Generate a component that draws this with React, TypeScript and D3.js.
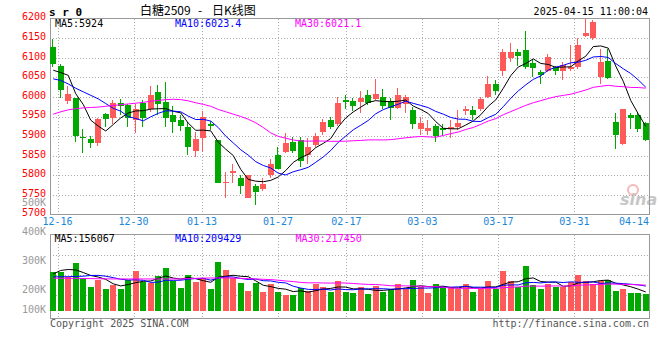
import React from 'react';
import * as d3 from 'd3';

// ---- data ----
const dates = [
  '12-13','12-16','12-17','12-18','12-19','12-20','12-23','12-24','12-25','12-26','12-27','12-30','12-31',
  '01-02','01-03','01-06','01-07','01-08','01-09','01-10','01-13','01-14','01-15','01-16','01-17','01-20','01-21','01-22','01-23','01-24','01-27',
  '02-05','02-06','02-07','02-10','02-11','02-12','02-13','02-14','02-17','02-18','02-19','02-20','02-21','02-24','02-25','02-26','02-27','02-28',
  '03-03','03-04','03-05','03-06','03-07','03-10','03-11','03-12','03-13','03-14','03-17','03-18','03-19','03-20','03-21','03-24','03-25','03-26','03-27','03-28','03-31',
  '04-01','04-02','04-03','04-07','04-08','04-09','04-10','04-11','04-14','04-15',
];
const opens = [6128,6079,5989,5997,5897,5892,5883,5956,5947,5984,5979,5941,5984,5970,6013,5986,5953,5942,5922,5862,
  5896,5932,5890,5782,5806,5792,5742,5772,5764,5800,5851,5860,5885,5890,5851,5877,5911,5941,5930,5991,
  5989,5986,6004,5994,6000,5989,5972,5981,5966,5918,5913,5925,5920,5917,5922,5964,5966,5969,6000,6032,
  6067,6098,6115,6119,6087,6064,6067,6076,6066,6072,6077,6156,6149,6051,6091,5936,5881,5953,5953,5934];
const highs = [6147,6085,6028,5997,5919,5899,5946,5958,5991,5994,5981,5983,5992,6028,6030,6037,5976,5953,5936,5911,
  5965,5938,5890,5809,5828,5800,5800,5779,5794,5841,5873,5909,5898,5898,5894,5909,5943,5949,6000,6006,
  5998,6015,6017,6045,6020,5996,6023,6004,5973,5949,5941,5930,5930,5941,5966,5977,5977,6000,6053,6043,
  6121,6138,6121,6168,6096,6068,6110,6078,6089,6132,6151,6200,6196,6123,6123,5959,5970,5959,5959,5936];
const lows = [6077,5996,5983,5885,5858,5870,5875,5924,5930,5953,5924,5909,5924,5962,5955,5922,5907,5913,5851,5847,
  5860,5915,5780,5742,5781,5752,5742,5724,5760,5792,5816,5856,5858,5822,5828,5871,5902,5917,5925,5970,
  5964,5959,5979,5993,5970,5942,5969,5959,5917,5902,5904,5885,5901,5896,5915,5955,5942,5964,5998,6004,
  6053,6089,6078,6072,6051,6034,6064,6057,6044,6066,6072,6153,6145,6034,6045,5868,5877,5917,5911,5888];
const closes = [6083,6018,6007,5901,5894,5883,5943,5944,5984,5978,5945,5970,5947,6004,5983,5947,5936,5926,5873,5892,
  5949,5927,5781,5784,5811,5772,5800,5758,5777,5828,5816,5882,5862,5837,5871,5901,5936,5924,5985,5986,
  5977,5997,5985,6007,5977,5972,6004,6000,5930,5934,5920,5901,5915,5923,5934,5968,5953,5994,6032,6015,
  6115,6115,6104,6077,6074,6057,6102,6067,6081,6077,6132,6162,6190,6089,6049,5902,5969,5945,5919,5890];
// volume, in lots
const volumes = [323,323,281,403,273,200,259,184,217,184,259,337,240,231,292,359,251,195,301,240,
  276,184,409,342,278,234,167,234,159,223,159,134,134,190,167,223,200,161,251,161,
  150,200,142,206,161,184,225,184,259,200,150,225,200,200,184,225,159,184,251,184,
  334,251,200,376,217,184,225,200,200,242,301,251,225,251,259,167,184,150,150,142].map(v => v * 1000);

// moving-average values before enough history is visible
const ma5Head = [6068, 6062, 6055, 6008];
const ma10Head = [6046, 6042, 6033, 6022, 6013, 6004, 5995, 5983, 5971];
const ma30Head = [5956,5962,5967,5970,5972,5973,5974,5976,5978,5980,5982,5984,5986,5989,5991,5993,5994,5993,5990,5985,5981,5976,5968,5962,5956,5950,5943,5934,5922];
const vma5Head = [309000, 338000, 346000, 342000];
const vma10Head = [284000, 285000, 286000, 288000, 290000, 296000, 297000, 290000, 278000];
const vma30Head = [273,273,272,272,271,270,269,268,267,267,267,267,267,267,267,267,267,268,270,272,274,275,276,276,274,272,270,267,264].map(v => v * 1000);

const tickDates = ['12-16','12-30','01-13','01-27','02-17','03-03','03-17','03-31','04-14'];
const priceTicks = [6200,6150,6100,6050,6000,5950,5900,5850,5800,5750,5700];
const volTicks = [100000,200000,300000,400000,500000];
const priceMA = ['MA5:5924', 'MA10:6023.4', 'MA30:6021.1'];
const volMA = ['MA5:156067', 'MA10:209429', 'MA30:217450'];

const RED = '#ff5a5a';
const GREEN = '#00a800';
const MA_COLORS = ['#000000', '#0000ff', '#ff00ff'];
const GRID = '#aaaaaa';
const BORDER = '#999999';
const MONO = "'DejaVu Sans Mono', monospace";

function movingAvg(values: number[], n: number, head: number[]) {
  return values.map((_, i) => (i < head.length ? head[i] : (d3.mean(values.slice(i - n + 1, i + 1)) as number)));
}

export default function App() {
  const L = 50, R = 650;
  const T = 18.5, B = 214.5;
  const VT = 234.5, VB = 318.5;
  const idx = dates.map((_, i) => i);

  const x = d3.scaleBand<number>().domain(idx).range([49.5, 649.5]).padding(0);
  const cx = (i: number) => (x(i) as number) + x.bandwidth() / 2;
  const gridX = d3.scaleLinear().domain([0, 80]).range([50, 658]);
  const y = d3.scaleLinear().domain([5700, 6200]).range([B, T]);
  const yv = d3.scaleLinear().domain([0, 400000]).range([311, 263]);
  const volLabelY = d3.scaleLinear().domain([200000, 500000]).range([293, 205.7]);

  const ma = [movingAvg(closes, 5, ma5Head), movingAvg(closes, 10, ma10Head), movingAvg(closes, 30, ma30Head)];
  const vma = [movingAvg(volumes, 5, vma5Head), movingAvg(volumes, 10, vma10Head), movingAvg(volumes, 30, vma30Head)];

  const priceLine = d3.line<number>().x((_, i) => cx(i)).y(d => y(d));
  const volLine = d3.line<number>().x((_, i) => cx(i)).y(d => yv(d));

  const ticks = tickDates.map(t => ({ t, gx: gridX(dates.indexOf(t)) }));
  const hGrid = priceTicks.filter(p => p !== 6200 && p !== 5700);
  const fmtK = (v: number) => `${v / 1000}K`;

  return (
    <svg width={660} height={360} style={{ position: 'absolute', left: 0, top: 0, background: '#fff' }}
      fontFamily={MONO} fontSize={10}>
      <rect x={0} y={0} width={660} height={360} fill="#fff" />

      {/* header */}
      <text x={49} y={15.5} fontWeight="bold" fontSize={11} fill="#000" xmlSpace="preserve">s r 0</text>
      <text x={140} y={14.5} fontFamily="'Noto Sans CJK SC', sans-serif" fontSize={12} fill="#000">白糖2509</text>
      <text x={200} y={14.5} fontFamily="'Noto Sans CJK SC', sans-serif" fontSize={12} fill="#000" textAnchor="middle">-</text>
      <text x={212} y={14.5} fontFamily="'Noto Sans CJK SC', sans-serif" fontSize={12} fill="#000">日K线图</text>
      <text x={648} y={15} textAnchor="end" fill="#000">2025-04-15 11:00:04</text>

      {/* grids */}
      <g stroke={GRID} strokeDasharray="1,2" shapeRendering="crispEdges">
        {hGrid.map(p => <line key={p} x1={L} x2={R} y1={Math.round(y(p)) + 0.5} y2={Math.round(y(p)) + 0.5} />)}
        {[255.5, 275.5, 295.5].map(g => <line key={g} x1={L} x2={R} y1={g} y2={g} />)}
        {ticks.filter(d => d.gx < 620).map(d => (
          <g key={d.t}>
            <line x1={Math.round(d.gx) + 0.5} x2={Math.round(d.gx) + 0.5} y1={T} y2={B} />
            <line x1={Math.round(d.gx) + 0.5} x2={Math.round(d.gx) + 0.5} y1={VT} y2={VB} />
          </g>
        ))}
      </g>

      {/* watermark */}
      <g opacity={0.55}>
        <circle cx={633} cy={190} r={5} fill="none" stroke="#f08080" strokeWidth={2} />
        <text x={620} y={205} fontFamily="'DejaVu Sans', sans-serif" fontStyle="italic" fontWeight="bold" fontSize={16} fill="#999">sina</text>
      </g>

      {/* borders */}
      <g fill="none" stroke={BORDER} shapeRendering="crispEdges">
        <rect x={L + 0.5} y={T} width={R - L - 1} height={B - T} />
        <rect x={L + 0.5} y={VT} width={R - L - 1} height={VB - VT} />
      </g>

      {/* candles */}
      <g shapeRendering="crispEdges">
        {idx.map(i => {
          const up = closes[i] >= opens[i];
          const col = up ? RED : GREEN;
          const x0 = Math.round(cx(i) - 3);
          const top = y(Math.max(opens[i], closes[i]));
          const bot = y(Math.min(opens[i], closes[i]));
          return (
            <g key={i}>
              <line x1={x0 + 2.5} x2={x0 + 2.5} y1={y(highs[i])} y2={y(lows[i])} stroke={col} />
              <rect x={x0} y={top} width={6} height={Math.max(1, bot - top)} fill={col} />
            </g>
          );
        })}
      </g>

      {/* price MAs */}
      <g fill="none" strokeWidth={1}>
        {ma.map((m, k) => <path key={k} d={priceLine(m) as string} stroke={MA_COLORS[k]} />)}
      </g>

      {/* volume bars */}
      <g shapeRendering="crispEdges">
        {idx.map(i => {
          const col = closes[i] >= opens[i] ? RED : GREEN;
          const x0 = Math.round(cx(i) - 3);
          return <rect key={i} x={x0} y={yv(volumes[i])} width={6} height={yv(0) - yv(volumes[i])} fill={col} />;
        })}
      </g>
      <g fill="none" strokeWidth={1}>
        {vma.map((m, k) => <path key={k} d={volLine(m) as string} stroke={MA_COLORS[k]} />)}
      </g>

      {/* MA labels */}
      {priceMA.map((t, k) => (
        <text key={t} x={55 + k * 120} y={27} fill={MA_COLORS[k]}>{t}</text>
      ))}
      {volMA.map((t, k) => (
        <text key={t} x={54.5 + k * 120.5} y={242} fill={MA_COLORS[k]}>{t}</text>
      ))}

      {/* price axis */}
      {priceTicks.map(p => (
        <text key={p} x={46} y={y(p) + 1.8} textAnchor="end" fill="#ff0000">{p}</text>
      ))}
      {/* volume axis */}
      {volTicks.map(v => (
        <text key={v} x={46} y={Math.min(volLabelY(v), 312.7)} textAnchor="end" fill="#999999">{fmtK(v)}</text>
      ))}

      {/* date axis */}
      {ticks.map(d => (
        <text key={d.t} x={Math.min(d.gx, 649 - 15)} y={225} textAnchor="middle" fill="#1a86d8">{d.t}</text>
      ))}

      {/* footer */}
      <text x={50} y={327} fill="#555">Copyright 2025 SINA.COM</text>
      <text x={649} y={327} textAnchor="end" fill="#555">http://finance.sina.com.cn</text>
    </svg>
  );
}
